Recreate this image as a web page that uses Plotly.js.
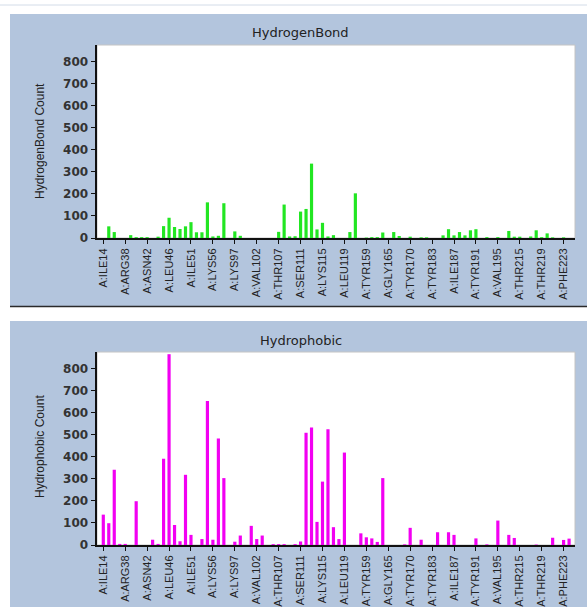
<!DOCTYPE html>
<html>
<head>
<meta charset="utf-8">
<script src="https://cdn.plot.ly/plotly-3.0.1.min.js"></script>
<style>html,body{margin:0;padding:0;background:#fff;}#chart{width:587px;height:607px;}</style>
</head>
<body>
<div id="chart"></div>
<script>
// Residue labels shown on the x axis (every 4th residue position is labelled)
const residueLabels = ["A:ILE14","A:ARG38","A:ASN42","A:LEU46","A:ILE51","A:LYS56","A:LYS97","A:VAL102","A:THR107","A:SER111","A:LYS115","A:LEU119","A:TYR159","A:GLY165","A:TYR170","A:TYR183","A:ILE187","A:TYR191","A:VAL195","A:THR215","A:THR219","A:PHE223"];
const labelPositions = [0,4,8,12,16,20,24,28,32,36,40,44,48,52,56,60,64,68,72,76,80,84];

// Hydrogen bond counts per residue position (0..85)
const hydrogenBond = [
  0, 53, 27, 0, 0, 13, 4, 4, 4, 0,
  6, 54, 92, 50, 41, 53, 72, 26, 26, 162,
  7, 10, 158, 0, 30, 10, 0, 0, 0, 0,
  0, 0, 28, 152, 7, 8, 120, 132, 338, 39,
  69, 7, 13, 0, 0, 27, 203, 0, 2, 4,
  4, 25, 0, 27, 9, 0, 6, 0, 3, 3,
  0, 0, 12, 40, 12, 27, 12, 35, 40, 0,
  4, 0, 4, 0, 32, 6, 6, 0, 7, 35,
  4, 21, 3, 0, 3, 0
];

// Hydrophobic counts per residue position (0..85)
const hydrophobic = [
  138, 99, 342, 5, 5, 0, 199, 0, 0, 24,
  5, 392, 867, 91, 17, 319, 46, 0, 27, 654,
  24, 484, 304, 0, 15, 43, 0, 87, 27, 43,
  0, 4, 4, 4, 0, 4, 16, 510, 534, 105,
  288, 526, 81, 27, 420, 0, 0, 53, 35, 30,
  14, 304, 0, 0, 0, 3, 78, 0, 24, 0,
  0, 58, 0, 58, 46, 0, 0, 0, 30, 0,
  3, 0, 111, 0, 46, 32, 0, 0, 0, 2,
  0, 0, 33, 0, 23, 29
];

const yTicks = [0,100,200,300,400,500,600,700,800];

const positions = hydrogenBond.map((_, i) => i);

const W = 587, H = 607;
const fx = p => p / W;
const fy = p => 1 - p / H;

const tickFontX = {family: "Liberation Sans, Arial, sans-serif", size: 11, color: "#222"};
const tickFontY = {family: "DejaVu Sans, Verdana, sans-serif", size: 12, color: "#333", weight: "bold"};

function xAxis(anchor) {
  return {
    domain: [fx(97), fx(575)], range: [-1.15, 86.08], anchor: anchor,
    tickmode: "array", tickvals: labelPositions, ticktext: residueLabels,
    tickangle: -90, tickfont: tickFontX, ticks: "outside", ticklen: 4, tickwidth: 1, tickcolor: "#111",
    showline: true, linecolor: "#111", linewidth: 2, showgrid: false, zeroline: false,
    automargin: false, fixedrange: true
  };
}
function yAxis(anchor, top, bottom) {
  return {
    domain: [fy(bottom), fy(top)], range: [0, 877], anchor: anchor,
    tickmode: "array", tickvals: yTicks, tickfont: tickFontY,
    ticks: "outside", ticklen: 4, tickwidth: 1, tickcolor: "#111",
    showline: true, linecolor: "#111", linewidth: 2.5, showgrid: false, zeroline: false,
    automargin: false, fixedrange: true
  };
}

const traces = [
  {type: "bar", x: positions, y: hydrogenBond, xaxis: "x", yaxis: "y", width: 0.58,
   marker: {color: "#22e622", line: {width: 0}}, hoverinfo: "y"},
  {type: "bar", x: positions, y: hydrophobic, xaxis: "x2", yaxis: "y2", width: 0.58,
   marker: {color: "#f200f2", line: {width: 0}}, hoverinfo: "y"}
];

const rect = (x0, y0, x1, y1, fill, line) => ({
  type: "rect", xref: "paper", yref: "paper", layer: "below",
  x0: fx(x0), x1: fx(x1), y0: fy(y1), y1: fy(y0),
  fillcolor: fill, line: line || {width: 0}
});
const hline = (x0, x1, y, color, width) => ({
  type: "line", xref: "paper", yref: "paper", layer: "below",
  x0: fx(x0), x1: fx(x1), y0: fy(y), y1: fy(y), line: {color: color, width: width}
});

const panelColor = "#b3c5dd";
const shapes = [
  hline(0, 587, 5, "#d3dce8", 1),
  rect(10, 14, 587, 306, panelColor),
  hline(10, 587, 306.5, "#2a2a2a", 1.5),
  rect(10, 321, 587, 607, panelColor),
  rect(97, 45, 575, 238, "#ffffff", {color: "#c4c4c4", width: 1}),
  rect(97, 352, 575, 545, "#ffffff", {color: "#c4c4c4", width: 1})
];

const titleFont = {family: "DejaVu Sans, Verdana, sans-serif", size: 13, color: "#222"};
const axisTitleFont = {family: "Liberation Sans, Arial, sans-serif", size: 12, color: "#222"};
const ann = (text, x, y, font, angle) => ({
  text: text, xref: "paper", yref: "paper", x: fx(x), y: fy(y),
  xanchor: "center", yanchor: "middle", showarrow: false, font: font, textangle: angle || 0
});

const layout = {
  width: W, height: H,
  margin: {l: 0, r: 0, t: 0, b: 0, pad: 0},
  paper_bgcolor: "#ffffff", plot_bgcolor: "rgba(0,0,0,0)",
  showlegend: false,
  xaxis: xAxis("y"), yaxis: yAxis("x", 45, 238),
  xaxis2: xAxis("y2"), yaxis2: yAxis("x2", 352, 545),
  shapes: shapes,
  annotations: [
    ann("HydrogenBond", 300, 33, titleFont),
    ann("Hydrophobic", 301, 340, titleFont),
    ann("HydrogenBond Count", 40, 141, axisTitleFont, -90),
    ann("Hydrophobic Count", 40, 447, axisTitleFont, -90)
  ]
};

Plotly.newPlot("chart", traces, layout, {displayModeBar: false, staticPlot: true});
</script>
</body>
</html>
